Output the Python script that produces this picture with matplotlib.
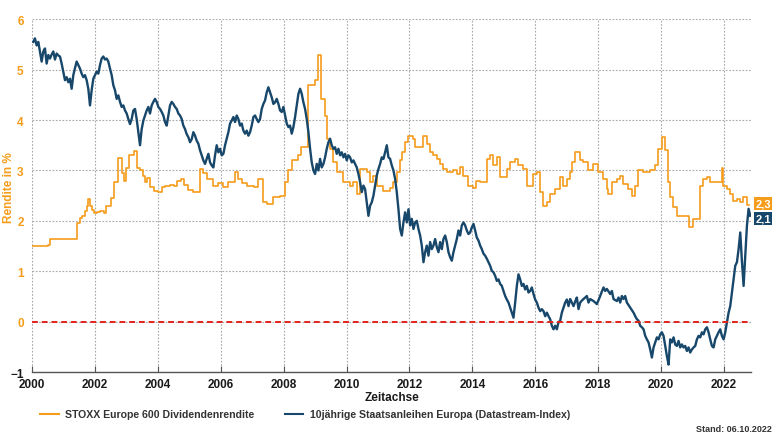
"""Dividendenrendite STOXX Europe 600 vs. 10-jaehrige Staatsanleihen Europa."""

import matplotlib

matplotlib.use("Agg")

import matplotlib.pyplot as plt
import numpy as np
from matplotlib.lines import Line2D

ORANGE = "#F59C1A"
NAVY = "#17476A"
RED = "#E2231A"
GRID = "#A8A8A8"
TEXT = "#1A1A1A"

plt.rcParams["font.family"] = ["Liberation Sans", "DejaVu Sans"]

# STOXX Europe 600 Dividendenrendite (step changes: decimal year, %)
DIV_YEARS = [
    2000.00, 2000.51, 2000.57, 2001.43, 2001.53, 2001.59, 2001.69, 2001.75,
    2001.78, 2001.84, 2001.91, 2001.97, 2002.07, 2002.16, 2002.29, 2002.35,
    2002.51, 2002.61, 2002.73, 2002.86, 2002.93, 2002.99, 2003.08, 2003.24,
    2003.34, 2003.43, 2003.53, 2003.59, 2003.66, 2003.75, 2003.88, 2004.01,
    2004.13, 2004.23, 2004.39, 2004.52, 2004.61, 2004.74, 2004.83, 2004.96,
    2005.12, 2005.34, 2005.44, 2005.56, 2005.76, 2005.91, 2006.07, 2006.23,
    2006.45, 2006.55, 2006.68, 2006.84, 2007.06, 2007.19, 2007.35, 2007.47,
    2007.66, 2007.89, 2008.04, 2008.14, 2008.27, 2008.46, 2008.55, 2008.78,
    2009.00, 2009.09, 2009.19, 2009.32, 2009.38, 2009.48, 2009.57, 2009.70,
    2009.89, 2010.11, 2010.21, 2010.33, 2010.43, 2010.65, 2010.75, 2010.84,
    2010.97, 2011.16, 2011.38, 2011.48, 2011.61, 2011.70, 2011.76, 2011.86,
    2011.96, 2012.11, 2012.18, 2012.40, 2012.43, 2012.56, 2012.65, 2012.75,
    2012.88, 2012.97, 2013.07, 2013.20, 2013.39, 2013.51, 2013.61, 2013.70,
    2013.86, 2014.02, 2014.12, 2014.24, 2014.47, 2014.56, 2014.66, 2014.79,
    2014.88, 2015.10, 2015.20, 2015.36, 2015.45, 2015.61, 2015.74, 2015.93,
    2016.06, 2016.15, 2016.25, 2016.38, 2016.47, 2016.63, 2016.79, 2016.88,
    2017.01, 2017.11, 2017.17, 2017.27, 2017.42, 2017.52, 2017.68, 2017.84,
    2018.00, 2018.16, 2018.28, 2018.31, 2018.44, 2018.60, 2018.70, 2018.79,
    2018.95, 2019.08, 2019.17, 2019.27, 2019.43, 2019.65, 2019.81, 2019.90,
    2020.03, 2020.13, 2020.22, 2020.29, 2020.38, 2020.51, 2020.89, 2021.02,
    2021.24, 2021.34, 2021.46, 2021.56, 2021.94, 2021.97, 2022.10, 2022.19,
    2022.29, 2022.42, 2022.51, 2022.61, 2022.74, 2022.80,
]
DIV_VALUES = [
    1.50, 1.53, 1.65, 1.96, 2.05, 2.10, 2.20, 2.30,
    2.43, 2.30, 2.22, 2.15, 2.18, 2.20, 2.15, 2.30,
    2.45, 2.77, 3.24, 2.95, 2.80, 3.05, 3.30, 3.38,
    3.05, 3.00, 2.90, 2.78, 2.85, 2.67, 2.60, 2.57,
    2.67, 2.70, 2.72, 2.70, 2.80, 2.83, 2.72, 2.62,
    2.57, 3.03, 2.95, 2.83, 2.70, 2.75, 2.67, 2.77,
    2.97, 2.83, 2.75, 2.70, 2.67, 2.83, 2.37, 2.33,
    2.47, 2.50, 2.77, 3.00, 3.20, 3.30, 3.47, 4.69,
    4.79, 5.28, 4.42, 4.09, 3.63, 3.43, 3.17, 2.97,
    2.77, 2.70, 2.77, 2.53, 3.03, 2.97, 2.77, 2.90,
    2.70, 2.60, 2.65, 2.77, 2.97, 3.20, 3.37, 3.57,
    3.69, 3.63, 3.47, 3.47, 3.69, 3.53, 3.37, 3.30,
    3.23, 3.13, 3.03, 2.97, 3.00, 2.93, 3.07, 2.90,
    2.70, 2.65, 2.79, 2.77, 3.23, 3.30, 3.10, 3.27,
    2.87, 3.03, 3.17, 3.23, 3.10, 3.03, 2.70, 2.93,
    2.97, 2.57, 2.30, 2.37, 2.53, 2.63, 2.87, 2.70,
    2.83, 2.97, 3.17, 3.37, 3.20, 3.17, 3.00, 3.13,
    2.97, 2.83, 2.63, 2.53, 2.77, 2.83, 2.90, 2.73,
    2.63, 2.50, 2.70, 3.00, 2.97, 3.00, 3.10, 3.43,
    3.66, 3.40, 2.77, 2.47, 2.27, 2.10, 1.88, 2.04,
    2.70, 2.83, 2.87, 2.77, 3.05, 2.70, 2.63, 2.53,
    2.40, 2.43, 2.37, 2.47, 2.32, 2.32,
]

# 10jaehrige Staatsanleihen Europa, sampled every BOND_STEP years from BOND_START
BOND_START = 2000.042
BOND_STEP = 0.053
BOND_VALUES = [
    5.55, 5.62, 5.48, 5.55, 5.36, 5.16, 5.36, 5.42, 5.12, 5.29, 5.22, 5.30,
    5.36, 5.20, 5.32, 5.28, 5.26, 5.12, 4.96, 4.79, 4.85, 4.75, 4.82, 4.62,
    4.89, 5.03, 5.16, 5.09, 5.02, 4.92, 4.85, 4.89, 4.79, 4.62, 4.29, 4.59,
    4.82, 4.89, 4.96, 4.92, 5.09, 5.22, 5.26, 5.20, 5.22, 5.16, 5.02, 4.89,
    4.69, 4.59, 4.42, 4.49, 4.36, 4.26, 4.29, 4.19, 4.13, 4.02, 3.92, 4.02,
    4.19, 4.22, 4.02, 3.76, 3.50, 3.82, 3.99, 4.09, 4.19, 4.26, 4.13, 4.29,
    4.36, 4.42, 4.36, 4.26, 4.22, 4.16, 4.09, 3.96, 3.89, 4.09, 4.29, 4.36,
    4.32, 4.26, 4.22, 4.13, 4.09, 4.02, 3.89, 3.82, 3.72, 3.66, 3.56, 3.62,
    3.76, 3.69, 3.59, 3.53, 3.40, 3.30, 3.20, 3.13, 3.23, 3.33,
    # 2006 - 2011
    3.16, 3.10, 3.06, 3.30, 3.50, 3.36, 3.43, 3.30, 3.33, 3.50, 3.63, 3.76,
    3.93, 3.99, 4.06, 3.96, 4.09, 4.02, 3.89, 3.93, 3.79, 3.73, 3.79, 3.69,
    3.76, 3.89, 4.06, 4.09, 4.02, 3.96, 4.02, 4.22, 4.32, 4.39, 4.55, 4.65,
    4.55, 4.45, 4.32, 4.35, 4.42, 4.32, 4.19, 4.16, 4.26, 4.09, 3.93, 3.86,
    3.89, 3.73, 3.86, 4.06, 4.29, 4.52, 4.62, 4.52, 4.35, 4.22, 4.02, 3.76,
    3.43, 3.16, 3.00, 2.93, 3.13, 3.00, 3.23, 3.06, 3.13, 3.26, 3.43, 3.56,
    3.63, 3.50, 3.43, 3.46, 3.33, 3.43, 3.30, 3.36, 3.26, 3.33, 3.20, 3.30,
    3.26, 3.16, 3.20, 3.13, 3.06, 2.93, 2.77, 2.57, 2.70, 2.63, 2.37, 2.10,
    2.30, 2.37, 2.50, 2.70, 2.90, 3.03, 3.13, 3.26, 3.23, 3.36, 3.50, 3.26,
    # 2011 - 2017
    3.23, 3.10, 3.00, 2.83, 2.57, 2.23, 1.84, 1.71, 1.97, 2.17, 1.97, 2.23,
    1.91, 2.04, 1.84, 1.97, 2.00, 1.84, 1.71, 1.51, 1.18, 1.38, 1.51, 1.31,
    1.58, 1.44, 1.51, 1.64, 1.48, 1.38, 1.58, 1.44, 1.64, 1.71, 1.58, 1.38,
    1.28, 1.21, 1.38, 1.51, 1.64, 1.81, 1.71, 1.91, 1.97, 1.91, 1.81, 1.74,
    1.77, 1.87, 1.94, 1.81, 1.67, 1.61, 1.51, 1.44, 1.35, 1.31, 1.25, 1.18,
    1.11, 1.01, 0.98, 0.91, 0.81, 0.84, 0.75, 0.71, 0.61, 0.51, 0.44, 0.38,
    0.28, 0.18, 0.08, 0.38, 0.71, 0.94, 0.84, 0.71, 0.75, 0.64, 0.71, 0.58,
    0.61, 0.68, 0.55, 0.44, 0.38, 0.28, 0.21, 0.25, 0.21, 0.11, 0.18, 0.11,
    0.05, -0.08, -0.15, -0.08, -0.15, -0.01, 0.02, 0.18, 0.28, 0.38, 0.44, 0.31,
    # 2017 - 2022
    0.45, 0.38, 0.31, 0.40, 0.48, 0.25, 0.38, 0.42, 0.45, 0.48, 0.51, 0.38,
    0.45, 0.43, 0.41, 0.38, 0.35, 0.43, 0.51, 0.60, 0.68, 0.61, 0.65, 0.60,
    0.55, 0.61, 0.45, 0.43, 0.41, 0.48, 0.38, 0.51, 0.45, 0.51, 0.38, 0.33,
    0.28, 0.23, 0.18, 0.11, 0.05, 0.02, -0.08, -0.11, -0.15, -0.28, -0.35, -0.41,
    -0.55, -0.71, -0.51, -0.41, -0.31, -0.35, -0.25, -0.21, -0.28, -0.48, -0.68, -0.85,
    -0.35, -0.41, -0.31, -0.45, -0.48, -0.38, -0.51, -0.45, -0.51, -0.48, -0.58, -0.51,
    -0.61, -0.55, -0.51, -0.48, -0.35, -0.28, -0.31, -0.21, -0.25, -0.15, -0.11, -0.21,
    -0.35, -0.48, -0.51, -0.35, -0.28, -0.21, -0.15, -0.28, -0.35, -0.21, -0.01, 0.18,
    0.31, 0.58, 0.84, 1.11, 1.18, 1.44, 1.77, 1.20, 0.71, 1.30, 1.90, 2.24,
    2.10,
]

DIV_LABEL = "STOXX Europe 600 Dividendenrendite"
BOND_LABEL = "10jährige Staatsanleihen Europa (Datastream-Index)"
X_TICKS = list(range(2000, 2023, 2))
Y_TICKS = [-1, 0, 1, 2, 3, 4, 5, 6]
END_DIV = "2,3"
END_BOND = "2,1"

bond_years = BOND_START + BOND_STEP * np.arange(len(BOND_VALUES))

fig = plt.figure(figsize=(7.8, 4.39), dpi=100, facecolor="white")
ax = fig.add_axes([0.041, 0.150, 0.922, 0.804])

ax.step(DIV_YEARS, DIV_VALUES, where="post", color=ORANGE, linewidth=1.2, zorder=3)
ax.plot(bond_years, BOND_VALUES, color=NAVY, linewidth=1.7, zorder=4)
ax.axhline(0, color=RED, linewidth=1.4, linestyle=(0, (3, 2)), zorder=5)

ax.set_xlim(2000, 2022.86)
ax.set_ylim(-1, 6)
ax.set_xticks(X_TICKS)
ax.set_yticks(Y_TICKS)
ax.grid(True, color=GRID, linestyle=(0, (1.5, 1.5)), linewidth=0.8)
ax.set_axisbelow(True)
for name in ("top", "right", "left"):
    ax.spines[name].set_visible(False)
ax.spines["bottom"].set_color("#555555")
ax.spines["bottom"].set_linewidth(1.0)
ax.tick_params(axis="x", length=4, direction="in", color="#555555", pad=4,
               labelsize=8.5, labelcolor=TEXT)
ax.tick_params(axis="y", length=0, pad=6, labelsize=8.5)
for label in ax.get_xticklabels():
    label.set_fontweight("bold")
for value, label in zip(Y_TICKS, ax.get_yticklabels()):
    label.set_fontweight("bold")
    label.set_color(TEXT if value < 0 else ORANGE)

fig.text(0.468, 0.093, "Zeitachse", fontsize=8.5, fontweight="bold",
         color=TEXT, ha="left", va="center")
fig.text(0.012, 0.572, "Rendite in %", fontsize=8.5, fontweight="bold",
         color=ORANGE, rotation=90, ha="center", va="center")

# end-value boxes at the right edge
for text, yval, color in ((END_DIV, DIV_VALUES[-1] + 0.02, ORANGE),
                          (END_BOND, BOND_VALUES[-1] - 0.05, NAVY)):
    ax.annotate(text, xy=(1.0, yval), xycoords=("axes fraction", "data"),
                xytext=(3, 0), textcoords="offset points", ha="left", va="center",
                fontsize=8, fontweight="bold", color="white", clip_on=False,
                bbox=dict(boxstyle="square,pad=0.15", facecolor=color, edgecolor="none"))

# legend below the chart
for x0, color, label in ((0.051, ORANGE, DIV_LABEL), (0.365, NAVY, BOND_LABEL)):
    fig.add_artist(Line2D([x0, x0 + 0.024], [0.055, 0.055], color=color,
                          linewidth=1.5, transform=fig.transFigure))
    fig.text(x0 + 0.032, 0.055, label, fontsize=7.6, fontweight="bold",
             color="#333333", ha="left", va="center")

fig.text(0.99, 0.021, "Stand: 06.10.2022", fontsize=6.5, fontweight="bold",
         color="#333333", ha="right", va="center")

fig.savefig("out.png", dpi=100, facecolor="white")
